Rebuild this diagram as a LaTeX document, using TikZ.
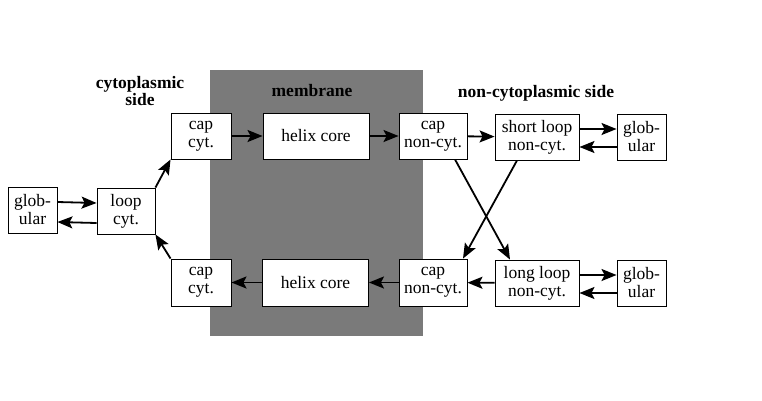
\documentclass[tikz,border=0pt]{standalone}
\usepackage{fontspec}
\setmainfont{Liberation Serif}
\usetikzlibrary{arrows.meta}
\begin{document}
\begin{tikzpicture}[x=1pt,y=-1pt,
  box/.style={draw=black,line width=0.9pt,fill=white,inner sep=0pt,align=center,
    font=\fontsize{17.5}{18}\selectfont},
  arr/.style={line width=1.8pt,-{Stealth[length=15pt,width=12pt,inset=3pt]}},
  lab/.style={font=\fontsize{17.5}{16.5}\selectfont\bfseries,align=center}]
\useasboundingbox (0,0) rectangle (762,400);
\node[fill=black!52,minimum width=213pt,minimum height=266pt,inner sep=0pt] (memb) at (316.5,203) {};
\node[lab] (tmem) at (312,91) {membrane};
\node[lab] (tcyt) at (140,91) {cytoplasmic\\side};
\node[lab] (tnon) at (536,93) {non-cytoplasmic side};
% top row
\node[box,minimum width=60pt,minimum height=46pt] (capT) at (201,136) {cap\\cyt.};
\node[box,minimum width=106pt,minimum height=46pt] (helT) at (316,136) {helix core};
\node[box,minimum width=68pt,minimum height=46pt] (cncT) at (433,136) {cap\\non-cyt.};
\node[box,minimum width=84pt,minimum height=46pt] (slT) at (537,137) {short loop\\non-cyt.};
\node[box,minimum width=49pt,minimum height=46pt] (glT) at (641.5,137) {glob-\\ular};
% bottom row
\node[box,minimum width=60pt,minimum height=47pt] (capB) at (201,282.5) {cap\\cyt.};
\node[box,minimum width=106pt,minimum height=47pt] (helB) at (315.5,282.5) {helix core};
\node[box,minimum width=68pt,minimum height=47pt] (cncB) at (433,282.5) {cap\\non-cyt.};
\node[box,minimum width=84pt,minimum height=46pt] (llB) at (537,283) {long loop\\non-cyt.};
\node[box,minimum width=49pt,minimum height=46pt] (glB) at (641.5,283) {glob-\\ular};
% left
\node[box,minimum width=58pt,minimum height=46pt] (loop) at (126,211) {loop\\cyt.};
\node[box,minimum width=49pt,minimum height=46pt] (glL) at (32.5,210) {glob-\\ular};
% arrows
\draw[arr] ([yshift=8pt]glL.east) -- ([yshift=8pt]loop.west);
\draw[arr] ([yshift=-12pt]loop.west) -- ([yshift=-12pt]glL.east);
\draw[arr] (loop.north east) -- (capT.south west);
\draw[arr] (capB.north west) -- (loop.south east);
\draw[arr] (capT) -- (helT);
\draw[arr] (helT) -- (cncT);
\draw[arr] (cncT) -- (slT);
\draw[arr] ([yshift=8pt]slT.east) -- ([yshift=8pt]glT.west);
\draw[arr] ([yshift=-10pt]glT.west) -- ([yshift=-10pt]slT.east);
\draw[arr] ([xshift=22pt]cncT.south) -- ([xshift=-27pt]llB.north);
\draw[arr] ([xshift=-20pt]slT.south) -- ([xshift=30pt]cncB.north);
\draw[arr] ([yshift=8pt]llB.east) -- ([yshift=8pt]glB.west);
\draw[arr] ([yshift=-10pt]glB.west) -- ([yshift=-10pt]llB.east);
\draw[arr] (llB) -- (cncB);
\draw[arr] (cncB) -- (helB);
\draw[arr] (helB) -- (capB);
\end{tikzpicture}
\end{document}
